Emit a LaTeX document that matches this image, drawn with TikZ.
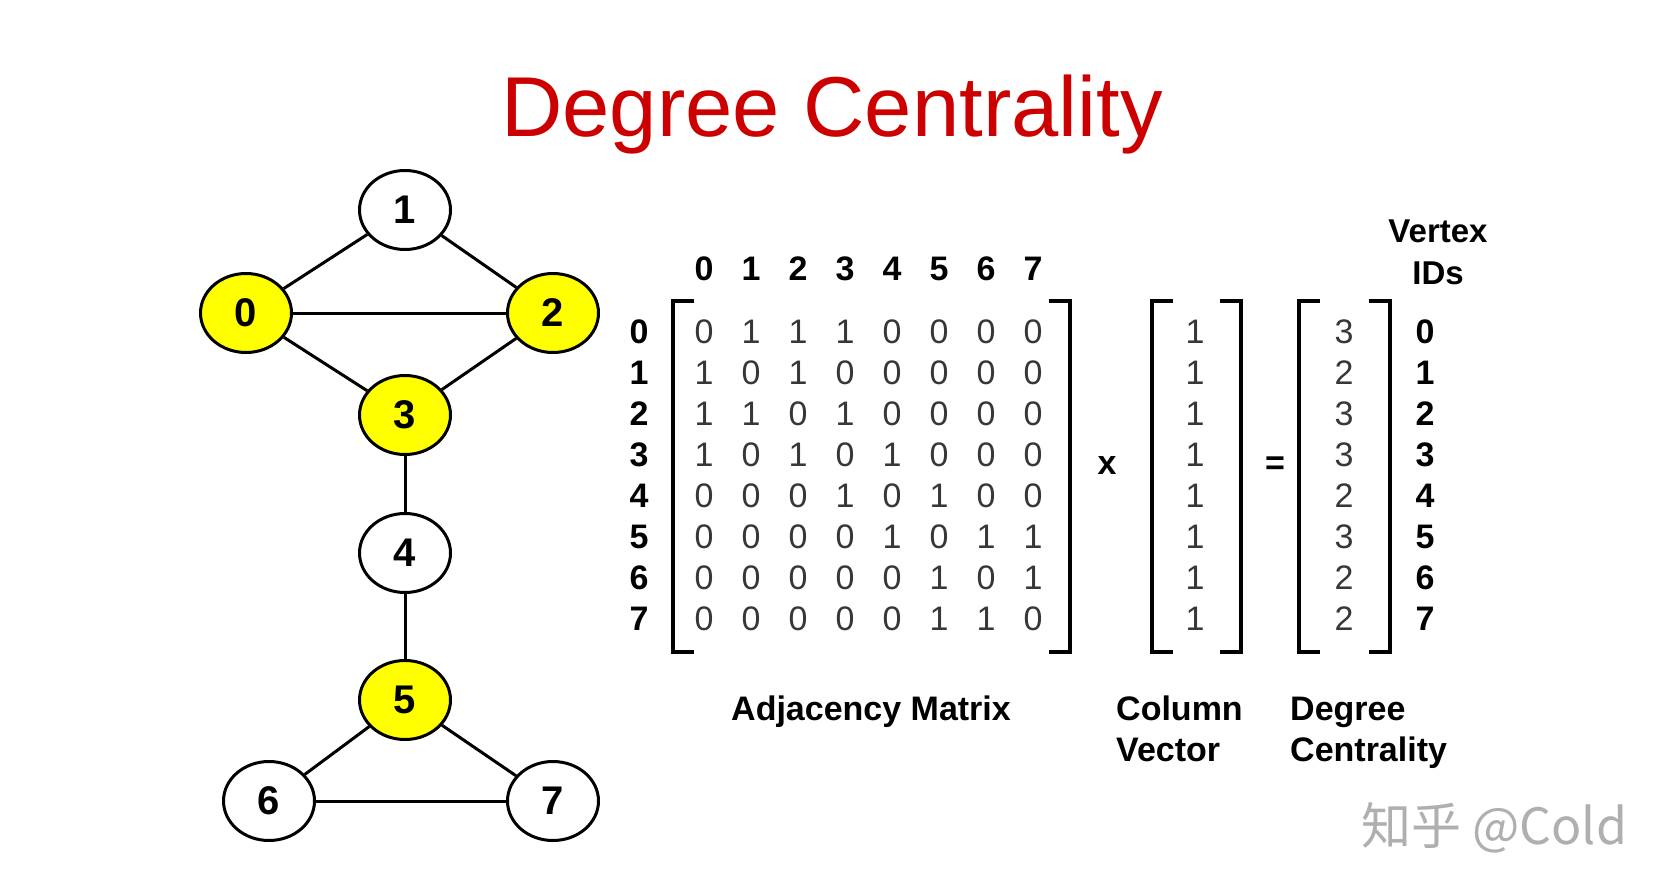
\documentclass[tikz,border=0pt]{standalone}
\usepackage{fontspec}
\setmainfont{Liberation Sans}
\newfontfamily\cjkfont{Noto Sans CJK SC}
\usetikzlibrary{shapes.geometric}
\definecolor{titlered}{RGB}{204,0,0}
\definecolor{nodeyellow}{RGB}{255,255,0}
\definecolor{entrygray}{RGB}{55,55,55}
\definecolor{wmgray}{RGB}{175,175,175}
\begin{document}
\begin{tikzpicture}[x=1pt,y=-1pt,
  vertex/.style={ellipse,draw=black,line width=3pt,minimum width=91pt,minimum height=79pt,inner sep=0pt,
    font=\fontsize{40}{48}\selectfont\bfseries,fill=white},
  hot/.style={vertex,fill=nodeyellow},
  edge/.style={line width=3pt,black},
  hdr/.style={font=\fontsize{34}{40}\selectfont\bfseries,inner sep=0pt},
  entry/.style={font=\fontsize{34}{40}\selectfont,text=entrygray,inner sep=0pt},
  lbl/.style={font=\fontsize{34}{40}\selectfont\bfseries,inner sep=0pt,anchor=base west},
  brk/.style={line width=3.5pt,black}]
\useasboundingbox[fill=white] (0,0) rectangle (1670,894);

% title
\node[font=\fontsize{85}{100}\selectfont,text=titlered,anchor=base,inner sep=0pt] (title) at (832,136) {Degree Centrality};

% graph
\node[vertex] (n1) at (405,210) {1};
\node[hot] (n0) at (246,313) {0};
\node[hot] (n2) at (553,313) {2};
\node[hot] (n3) at (405,415) {3};
\node[vertex] (n4) at (405,553) {4};
\node[hot] (n5) at (405,700) {5};
\node[vertex] (n6) at (269,801) {6};
\node[vertex] (n7) at (553,801) {7};
\draw[edge] (n0) -- (n1);
\draw[edge] (n1) -- (n2);
\draw[edge] (n0) -- (n2);
\draw[edge] (n0) -- (n3);
\draw[edge] (n2) -- (n3);
\draw[edge] (n3) -- (n4);
\draw[edge] (n4) -- (n5);
\draw[edge] (n5) -- (n6);
\draw[edge] (n5) -- (n7);
\draw[edge] (n6) -- (n7);

% column headers and row labels
\foreach \i in {0,...,7} {
  \node[hdr] (ch\i) at ({704+47*\i},269) {\i};
  \node[hdr] (rh\i) at (639,{332+41*\i}) {\i};
}
% adjacency matrix entries
\foreach \rowvals [count=\r from 0] in {{0,1,1,1,0,0,0,0},{1,0,1,0,0,0,0,0},{1,1,0,1,0,0,0,0},{1,0,1,0,1,0,0,0},{0,0,0,1,0,1,0,0},{0,0,0,0,1,0,1,1},{0,0,0,0,0,1,0,1},{0,0,0,0,0,1,1,0}} {
  \foreach \v [count=\c from 0] in \rowvals {
    \node[entry] (m\r\c) at ({704+47*\c},{332+41*\r}) {\v};
  }
}
% column vector, degree vector, vertex IDs
\foreach \d [count=\r from 0] in {3,2,3,3,2,3,2,2} {
  \node[entry] (cv\r) at (1195,{332+41*\r}) {1};
  \node[entry] (dv\r) at (1344,{332+41*\r}) {\d};
  \pgfmathtruncatemacro{\id}{\r}
  \node[hdr] (id\r) at (1425,{332+41*\r}) {\id};
}

% brackets
\draw[brk] (694,301) -- (673,301) -- (673,652) -- (694,652);
\draw[brk] (1049,301) -- (1070,301) -- (1070,652) -- (1049,652);
\draw[brk] (1173,301) -- (1152,301) -- (1152,652) -- (1173,652);
\draw[brk] (1220,301) -- (1241,301) -- (1241,652) -- (1220,652);
\draw[brk] (1320,301) -- (1299,301) -- (1299,652) -- (1320,652);
\draw[brk] (1369,301) -- (1390,301) -- (1390,652) -- (1369,652);

% operators
\node[hdr] (times) at (1107,466) {x};
\node[hdr] (equals) at (1275,466) {=};

% labels
\node[font=\fontsize{33}{40}\selectfont\bfseries,inner sep=0pt,anchor=base] (vtx) at (1438,242) {Vertex};
\node[font=\fontsize{33}{40}\selectfont\bfseries,inner sep=0pt,anchor=base] (ids) at (1438,284) {IDs};
\node[lbl] (adj) at (731,720) {Adjacency Matrix};
\node[lbl] (col1) at (1116,720) {Column};
\node[lbl] (col2) at (1116,761) {Vector};
\node[lbl] (deg1) at (1290,720) {Degree};
\node[lbl] (deg2) at (1290,761) {Centrality};

% watermark
\node[font=\fontsize{50}{56}\selectfont,text=wmgray,inner sep=0pt,anchor=base west] (wm) at (1361,844) {\cjkfont 知乎 @Cold};
\end{tikzpicture}
\end{document}
